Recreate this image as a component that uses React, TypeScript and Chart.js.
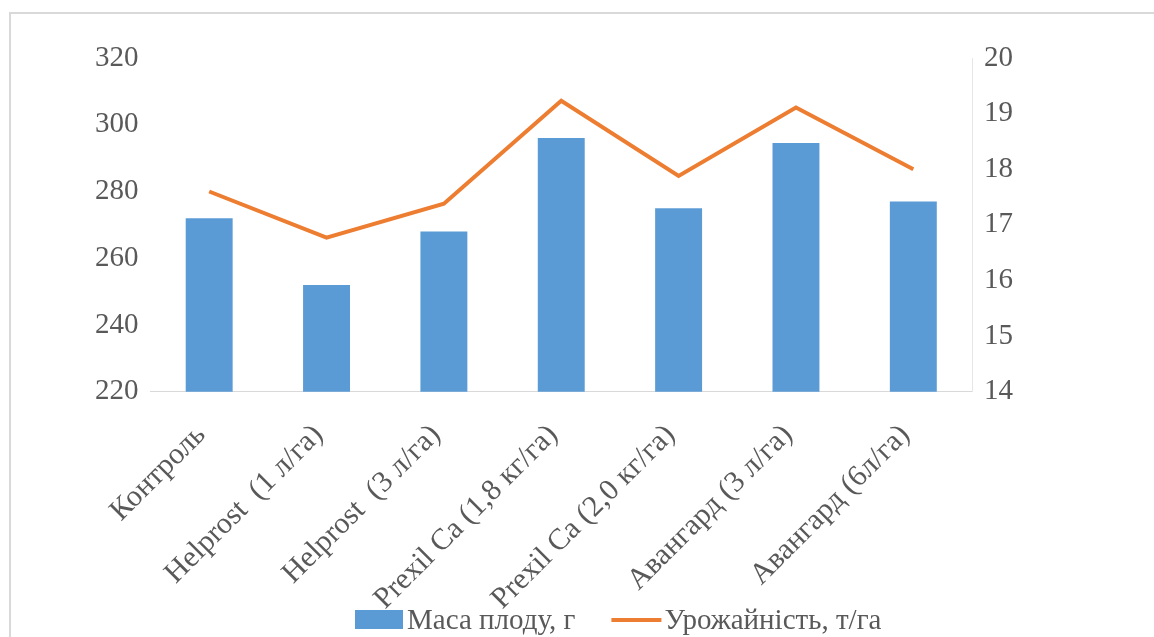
import React, { useEffect, useRef } from "react";
import { Chart, registerables } from "chart.js";

Chart.register(...registerables);

const categories = [
  "Контроль",
  "Helprost  (1 л/га)",
  "Helprost  (3 л/га)",
  "Prexil Ca (1,8 кг/га)",
  "Prexil Ca (2,0 кг/га)",
  "Авангард (3 л/га)",
  "Авангард (6л/га)",
];
const fruitMass = [272, 252, 268, 296, 275, 294.5, 277];
const cropYield = [17.6, 16.77, 17.38, 19.23, 17.88, 19.11, 18.0];
const massLabel = "Маса плоду, г";
const yieldLabel = "Урожайність, т/га";
const leftAxis = { min: 220, max: 320, step: 20 };
const rightAxis = { min: 14, max: 20, step: 1 };

const FONT = "'Liberation Serif', 'Times New Roman', serif";
const TEXT = "#595959";
const BLUE = "#5B9BD5";
const ORANGE = "#ED7D31";

const legendPlugin = {
  id: "customLegend",
  afterDraw(chart: any) {
    const ctx = chart.ctx as CanvasRenderingContext2D;
    ctx.save();
    ctx.font = `29px ${FONT}`;
    ctx.textBaseline = "middle";
    ctx.textAlign = "left";
    let x = 355;
    const y = 620;
    chart.data.datasets.forEach((ds: any) => {
      if (ds.type === "line") {
        ctx.strokeStyle = ds.borderColor;
        ctx.lineWidth = 4;
        ctx.beginPath();
        ctx.moveTo(x, y);
        ctx.lineTo(x + 50, y);
        ctx.stroke();
        x += 50 + 3;
      } else {
        ctx.fillStyle = ds.backgroundColor;
        ctx.fillRect(x, y - 10, 48, 19);
        x += 48 + 4;
      }
      ctx.fillStyle = TEXT;
      ctx.fillText(ds.label, x, y + 1);
      x += ctx.measureText(ds.label).width + 36;
    });
    ctx.restore();
  },
};

export default function App() {
  const ref = useRef<HTMLCanvasElement | null>(null);

  useEffect(() => {
    if (!ref.current) return;
    const chart = new Chart(ref.current, {
      type: "bar",
      data: {
        labels: categories,
        datasets: [
          {
            type: "bar",
            label: massLabel,
            data: fruitMass,
            yAxisID: "y",
            backgroundColor: BLUE,
            barPercentage: 0.4,
            categoryPercentage: 1,
            order: 1,
          },
          {
            type: "line",
            label: yieldLabel,
            data: cropYield,
            yAxisID: "y1",
            borderColor: ORANGE,
            backgroundColor: ORANGE,
            borderWidth: 4,
            pointRadius: 0,
            tension: 0,
            order: 0,
          } as any,
        ],
      },
      options: {
        responsive: false,
        animation: false,
        layout: { padding: { left: 83, right: 129, top: 58, bottom: -6 } },
        plugins: {
          legend: { display: false },
          tooltip: { enabled: false },
        },
        scales: {
          x: {
            grid: { display: false, drawTicks: false },
            border: { display: true, color: "#d9d9d9", width: 1 },
            ticks: {
              color: TEXT,
              font: { family: FONT, size: 30 },
              minRotation: 45,
              maxRotation: 45,
              padding: 26,
              labelOffset: -8,
              autoSkip: false,
            },
          },
          y: {
            position: "left",
            min: leftAxis.min,
            max: leftAxis.max,
            grid: { display: false, drawTicks: false },
            border: { display: false },
            ticks: {
              stepSize: leftAxis.step,
              color: TEXT,
              font: { family: FONT, size: 29 },
              padding: 12,
            },
          },
          y1: {
            position: "right",
            min: rightAxis.min,
            max: rightAxis.max,
            grid: { display: false, drawTicks: false },
            border: { display: true, color: "#e6e6e6", width: 1 },
            ticks: {
              stepSize: rightAxis.step,
              color: TEXT,
              font: { family: FONT, size: 29 },
              padding: 12,
            },
          },
        },
      },
      plugins: [legendPlugin],
    });
    return () => chart.destroy();
  }, []);

  return (
    <div
      style={{
        position: "fixed",
        left: 0,
        top: 0,
        width: 1154,
        height: 637,
        overflow: "hidden",
        background: "#ffffff",
      }}
    >
      <div
        style={{
          position: "absolute",
          left: 9,
          top: 12,
          width: 1200,
          height: 700,
          border: "2px solid #d9d9d9",
          boxSizing: "border-box",
        }}
      />
      <canvas
        ref={ref}
        width={1154}
        height={637}
        style={{ position: "absolute", left: 0, top: 0, width: 1154, height: 637 }}
      />
    </div>
  );
}
